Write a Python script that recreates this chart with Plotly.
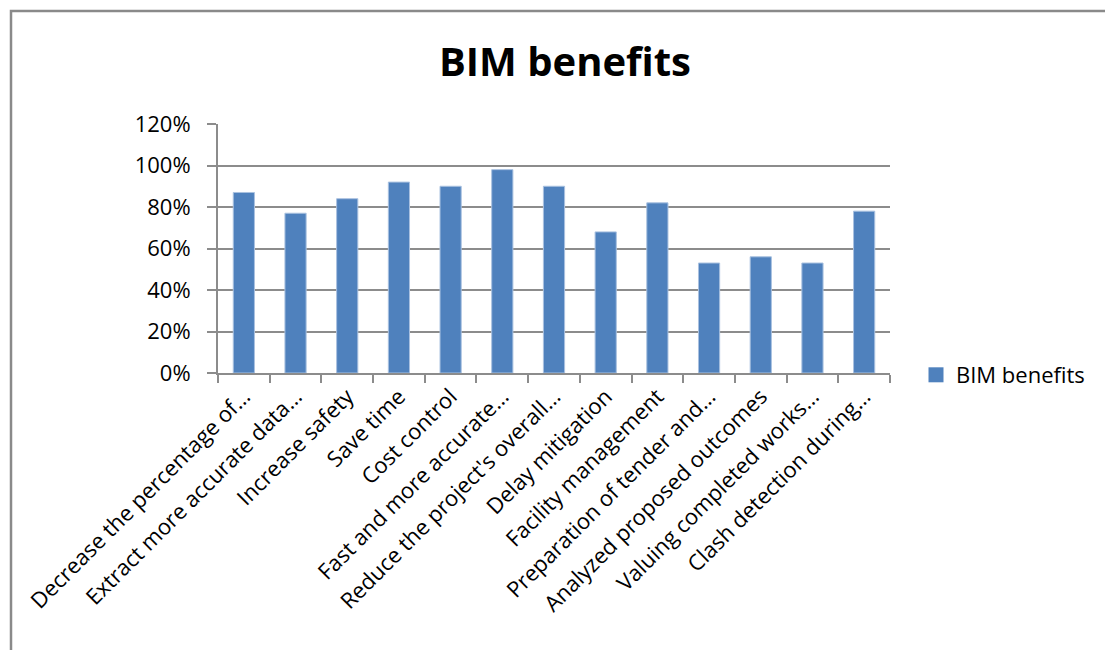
import plotly.graph_objects as go

categories = [
    "Decrease the percentage of…",
    "Extract more accurate data…",
    "Increase safety",
    "Save time",
    "Cost control",
    "Fast and more accurate…",
    "Reduce the project's overall…",
    "Delay mitigation",
    "Facility management",
    "Preparation of tender and…",
    "Analyzed proposed outcomes",
    "Valuing completed works…",
    "Clash detection during…",
]
values = [0.87, 0.77, 0.84, 0.92, 0.90, 0.98, 0.90, 0.68, 0.82, 0.53, 0.56, 0.53, 0.78]
series_name = "BIM benefits"
y_ticks = [0, 0.2, 0.4, 0.6, 0.8, 1.0, 1.2]

W, H = 1105, 650
L, R, T, B = 218, 215, 124, 277
pw, ph = W - L - R, H - T - B

FONT = "Open Sans"
GRID = "#8c8c8c"
BAR = "#4F81BD"

fig = go.Figure()
fig.add_trace(go.Bar(
    x=categories, y=values, name=series_name,
    marker=dict(color=BAR, line=dict(color="#a9c1e0", width=1)),
    showlegend=False,
))
# legend-only entry with a larger square swatch
fig.add_trace(go.Scatter(
    x=[None], y=[None], name=series_name, mode="markers",
    marker=dict(symbol="square", size=15, color=BAR),
    showlegend=True,
))

fig.update_layout(
    width=W, height=H,
    margin=dict(l=L, r=R, t=T, b=B, autoexpand=False),
    paper_bgcolor="white", plot_bgcolor="white",
    font=dict(family=FONT, size=22, color="black"),
    bargap=0.59,
    title=dict(text="<b>BIM benefits</b>", x=565 / W, xanchor="center",
               y=1 - 62 / H, yanchor="middle", yref="container",
               font=dict(family=FONT, size=40, color="black")),
    xaxis=dict(
        tickangle=-45, tickson="boundaries", ticks="outside", ticklen=8,
        tickwidth=2, tickcolor=GRID,
        showline=True, linecolor=GRID, linewidth=2,
        showgrid=False, tickfont=dict(size=22),
    ),
    yaxis=dict(
        range=[0, 1.2], tickvals=y_ticks, tickformat=".0%",
        ticks="outside", ticklen=9, tickwidth=2, tickcolor=GRID,
        showline=True, linecolor=GRID, linewidth=2,
        showgrid=True, gridcolor=GRID, gridwidth=2,
        zeroline=False, ticklabelstandoff=12, tickfont=dict(size=22),
    ),
    legend=dict(x=(916 - L) / pw, xanchor="left", y=(373 - 375) / ph, yanchor="middle",
                font=dict(size=22), itemwidth=30, bgcolor="rgba(0,0,0,0)"),
    shapes=[dict(
        type="rect", xref="paper", yref="paper",
        x0=(11 - L) / pw, x1=(W + 20 - L) / pw,
        y0=-(H + 20 - (T + ph)) / ph, y1=1 + (T - 11) / ph,
        line=dict(color="#8a8a8a", width=2.5), fillcolor="rgba(0,0,0,0)", layer="below",
    )],
)

fig.write_html("out.html")
